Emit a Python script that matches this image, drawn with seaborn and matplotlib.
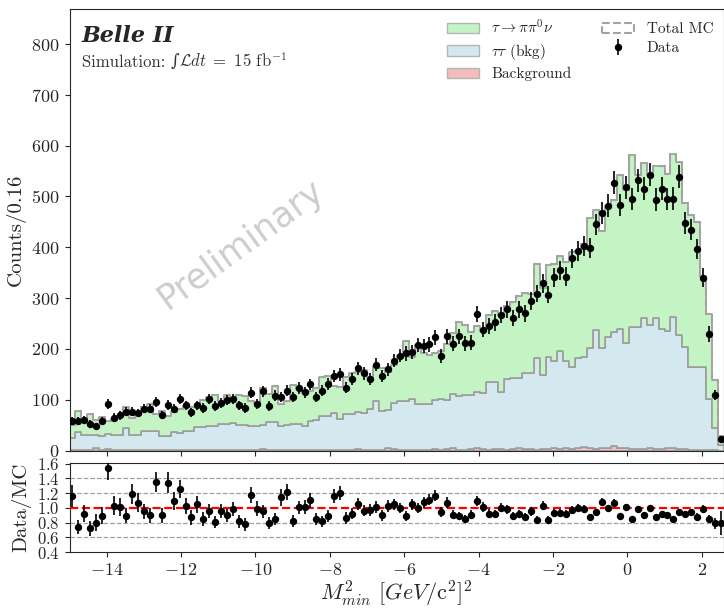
import numpy as np
import pandas as pd
import matplotlib.pyplot as plt
import seaborn as sns
from matplotlib.patches import Patch

# binning: 0.16 wide bins starting at -15
bin_lo = -15.0
bin_width = 0.16
n_bins = 110

data_counts = [58, 58, 60, 52, 48, 59, 91, 65, 69, 76,
               76, 74, 82, 82, 96, 70, 90, 82, 102, 89,
               75, 89, 84, 101, 88, 94, 99, 102, 89, 84,
               114, 92, 117, 88, 108, 105, 118, 105, 123, 115,
               130, 105, 118, 131, 147, 150, 124, 141, 162, 152,
               141, 169, 147, 160, 177, 187, 191, 194, 208, 206,
               209, 223, 186, 225, 210, 225, 211, 212, 269, 238,
               246, 252, 267, 278, 261, 278, 270, 294, 309, 329,
               307, 341, 355, 342, 378, 393, 403, 398, 445, 468,
               482, 527, 483, 518, 495, 532, 515, 543, 494, 515,
               495, 496, 539, 448, 435, 396, 340, 229, 109, 23]

mc_total = [50, 78, 65, 72, 60, 66, 59, 63, 68, 85,
            64, 69, 86, 91, 71, 78, 67, 75, 81, 87,
            86, 85, 99, 105, 109, 98, 110, 104, 109, 108,
            97, 93, 123, 111, 127, 92, 97, 128, 122, 114,
            118, 124, 144, 147, 127, 125, 144, 153, 154, 158,
            145, 167, 163, 155, 169, 187, 215, 185, 208, 191,
            188, 191, 196, 210, 231, 253, 248, 233, 245, 236,
            267, 274, 267, 284, 293, 305, 310, 309, 368, 319,
            365, 367, 382, 372, 390, 393, 407, 457, 473, 433,
            482, 493, 543, 513, 582, 543, 566, 543, 561, 560,
            544, 584, 567, 487, 463, 450, 343, 269, 138, 29]

tautau_bkg = [23, 35, 30, 30, 27, 27, 30, 30, 30, 44,
              30, 30, 37, 37, 37, 28, 28, 34, 34, 37,
              37, 44, 45, 47, 47, 52, 52, 52, 49, 49,
              48, 48, 48, 54, 55, 48, 50, 51, 51, 47,
              58, 58, 66, 66, 73, 60, 70, 70, 73, 73,
              80, 96, 76, 76, 90, 96, 96, 99, 90, 90,
              90, 96, 99, 96, 107, 106, 108, 106, 110, 110,
              132, 132, 113, 139, 139, 139, 150, 150, 180, 146,
              181, 172, 193, 172, 162, 178, 178, 198, 234, 198,
              219, 225, 234, 208, 240, 240, 258, 244, 258, 237,
              231, 258, 224, 201, 162, 162, 163, 100, 44, 11]

other_bkg = [1, 1, 1, 1, 4, 1, 3, 1, 1, 1,
             1, 1, 1, 1, 1, 1, 1, 2, 1, 1,
             1, 2, 1, 1, 1, 1, 1, 2, 1, 1,
             1, 1, 3, 2, 1, 1, 1, 1, 2, 1,
             1, 2, 1, 1, 1, 2, 1, 1, 3, 1,
             2, 1, 2, 4, 3, 1, 1, 2, 2, 1,
             2, 3, 2, 3, 4, 2, 2, 3, 5, 3,
             2, 3, 3, 2, 3, 4, 3, 3, 2, 3,
             3, 4, 3, 4, 3, 4, 6, 4, 3, 4,
             5, 8, 5, 4, 3, 3, 3, 4, 3, 3,
             4, 5, 3, 3, 2, 2, 2, 1, 1, 0]

labels = [r'$\tau\rightarrow\pi\pi^0\nu$', r'$\tau\tau$ (bkg)', 'Background']
colors = ['#c4f4c4', '#d3e8ef', '#f4bcbc']
edge_gray = '#9c9c9c'

sns.set_style('ticks')
plt.rcParams['font.family'] = ['cmr10', 'DejaVu Serif']
plt.rcParams['mathtext.fontset'] = 'cm'
plt.rcParams['axes.formatter.use_mathtext'] = True
plt.rcParams['axes.unicode_minus'] = True

edges = bin_lo + bin_width * np.arange(n_bins + 1)
centers = 0.5 * (edges[:-1] + edges[1:])
bin_list = edges.tolist()
data = np.array(data_counts, dtype=float)
total = np.array(mc_total, dtype=float)
tautau = np.array(tautau_bkg, dtype=float)
other = np.array(other_bkg, dtype=float)
signal = total - tautau - other

df = pd.concat([
    pd.DataFrame({'x': centers, 'w': signal, 'comp': labels[0]}),
    pd.DataFrame({'x': centers, 'w': tautau, 'comp': labels[1]}),
    pd.DataFrame({'x': centers, 'w': other, 'comp': labels[2]}),
], ignore_index=True)

fig = plt.figure(figsize=(7.24, 6.08), dpi=100)
ax = fig.add_axes([0.096, 0.259, 0.904, 0.727])
ax2 = fig.add_axes([0.096, 0.092, 0.904, 0.1465], sharex=ax)

# stacked MC
sns.histplot(data=df, x='x', weights='w', hue='comp', hue_order=labels,
             bins=bin_list, multiple='stack', element='step',
             palette=colors, alpha=1, edgecolor=edge_gray, linewidth=1.2,
             legend=False, ax=ax)
# total MC outline
sns.histplot(x=centers, weights=total, bins=bin_list, element='step', fill=False,
             color='#a3a3a3', linestyle='--', linewidth=1.5, ax=ax)

h_data = ax.errorbar(centers, data, yerr=np.sqrt(data), fmt='o', color='black',
                     ms=4.3, elinewidth=1.2, capsize=0, zorder=5)

ax.set_xlim(-15, 2.6)
ax.set_ylim(0, 870)
ax.set_yticks(np.arange(0, 801, 100))
ax.set_ylabel('Counts/0.16', fontsize=15)
ax.set_xlabel('')
ax.tick_params(labelbottom=False, labelsize=13)

ax.text(0.019, 0.962, 'Belle II', transform=ax.transAxes, fontsize=16,
        fontweight='bold', style='italic', family='DejaVu Serif', va='top')
# "Simulation: ∫L dt = 15 fb^-1" built from pieces so the integral sign has a glyph
t_sim = ax.text(0.019, 0.868, 'Simulation: ', transform=ax.transAxes,
                fontsize=12, va='baseline', color='#333333')
t_int = ax.annotate('∫', xy=(1, 0), xycoords=t_sim, xytext=(0, 0),
                    textcoords='offset points', va='bottom', ha='left',
                    fontsize=12, family='DejaVu Serif', color='#333333')
ax.annotate(r'$\mathcal{L}dt\ =\ 15$ fb$^{-1}$', xy=(1, 0), xycoords=t_sim,
            xytext=(6, 0), textcoords='offset points', va='bottom', ha='left',
            fontsize=12, color='#333333')
ax.text(-10.4, 405, 'Preliminary', family='DejaVu Sans', fontsize=25,
        color='#cdcdcd', rotation=36, ha='center', va='center', zorder=0)

handles = [Patch(facecolor=c, edgecolor='#b5b5b5') for c in colors]
handles.append(Patch(facecolor='none', edgecolor='#a3a3a3', linestyle='--', linewidth=1.5))
handles.append(h_data)
ax.legend(handles, labels + ['Total MC', 'Data'], ncol=2, frameon=False,
          loc='upper left', bbox_to_anchor=(0.577, 0.978), borderaxespad=0,
          borderpad=0, fontsize=11, handlelength=2.1, handletextpad=0.8,
          columnspacing=2.0, labelspacing=0.35)

# ratio panel
ratio = data / total
ratio_err = np.sqrt(data) / total
ax2.errorbar(centers, ratio, yerr=ratio_err, fmt='o', color='black',
             ms=4.3, elinewidth=1.2, capsize=0, zorder=5)
for yv in [0.6, 0.8, 1.2, 1.4]:
    ax2.axhline(yv, color='#a0a0a0', linestyle='--', linewidth=0.9, zorder=0)
ax2.axhline(1.0, color='red', linestyle='--', linewidth=1.6, zorder=3)
ax2.set_ylim(0.4, 1.61)
ax2.set_yticks([0.4, 0.6, 0.8, 1.0, 1.2, 1.4, 1.6])
ax2.set_xticks([-14, -12, -10, -8, -6, -4, -2, 0, 2])
ax2.tick_params(labelsize=13)
ax2.tick_params(axis='y', labelsize=12)
ax2.set_ylabel('Data/MC', fontsize=15)
ax2.set_xlabel(r'$M^2_{min}$ $[GeV/\mathrm{c}^2]^2$', fontsize=16, labelpad=1)

fig.savefig('out.png', dpi=100)
